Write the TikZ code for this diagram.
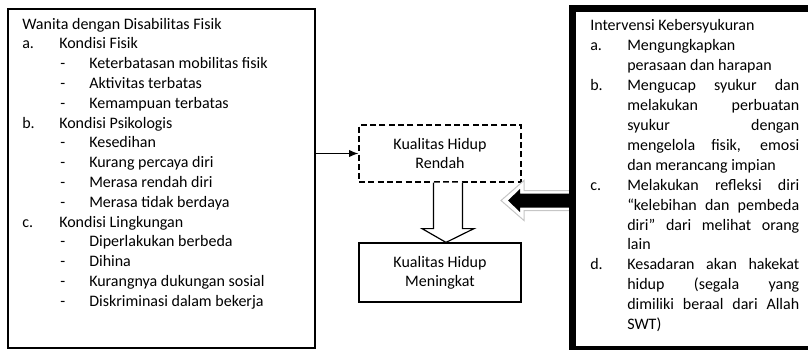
\documentclass[tikz,border=0pt]{standalone}
\usepackage{fontspec}
\setmainfont{Carlito}
\usetikzlibrary{calc,arrows.meta}
\newcommand{\J}[1]{\makebox[129pt][s]{#1}}
\begin{document}
\begin{tikzpicture}[x=0.75pt,y=-0.75pt,
  txt/.style={anchor=base west,inner sep=0pt,font=\fontsize{12}{14}\selectfont},
  box/.style={draw,line width=0.9pt,inner sep=0pt,align=center,font=\fontsize{12}{14}\selectfont},
  hollow/.style={draw,fill=white,line width=0.9pt,line join=miter},
]
\useasboundingbox (0,0) rectangle (808,350);
\clip (0,0) rectangle (808,350);

% boxes
\node[box,minimum width=230.25pt,minimum height=254.25pt] (L) at (161.5,178.5) {};
\node[box,dashed,dash pattern=on 4.5pt off 2.5pt,minimum width=121.5pt,minimum height=42.75pt,font=\fontsize{12}{13.7}\selectfont] (D) at (440,153.5) {Kualitas Hidup\\Rendah};
\node[box,minimum width=121.5pt,minimum height=44.25pt] (M) at (440,272.5) {Kualitas Hidup\\Meningkat};
\node[draw,line width=5.25pt,inner sep=0pt,outer sep=0pt,minimum width=185.6pt,minimum height=255.4pt] (R) at (696.25,179.25) {};

% arrow left box -> dashed box
\draw[line width=0.9pt,-{Latex[length=7pt,width=5.5pt]}] (L.east |- D.west) -- (D.west);

% hollow down arrow
\coordinate (hs) at ($(D.south)+(8,0)$);
\coordinate (ht) at ($(M.north)+(6,0)$);
\draw[hollow] ($(hs)+(-14.5,0)$) -- ($(hs)+(-14.5,46)$) -- ($(hs)+(-26,46)$) -- (ht)
  -- ($(hs)+(26,46)$) -- ($(hs)+(14.5,46)$) -- ($(hs)+(14.5,0)$);

% black arrow from right box
\coordinate (bs) at (R.west |- 0,200.5);
\coordinate (bt) at (508,200.5);
\draw[draw=gray!45,fill=white,line width=0.75pt]
  ($(bs)+(0,-10)$) -- (524,190.5) -- (524,180.5) -- ($(bt)+(-7,0)$) -- (524,220.5) -- (524,210.5) -- ($(bs)+(0,10)$);
\fill[black] ($(bs)+(0,-7)$) -- (520,193.5) -- (520,189) -- (bt) -- (520,212) -- (520,207.5) -- ($(bs)+(0,7)$) -- cycle;
\draw[line width=5.25pt] (R.north west) -- (R.south west);

% left text
\node[txt] (l0) at (22,29) {Wanita dengan Disabilitas Fisik};
\node[txt] (l1a) at (22,48.8) {a.};
\node[txt] (l1) at (59,48.8) {Kondisi Fisik};
\node[txt] (l2a) at (60,68.6) {-};
\node[txt] (l2) at (89,68.6) {Keterbatasan mobilitas fisik};
\node[txt] (l3a) at (60,88.4) {-};
\node[txt] (l3) at (89,88.4) {Aktivitas terbatas};
\node[txt] (l4a) at (60,108.2) {-};
\node[txt] (l4) at (89,108.2) {Kemampuan terbatas};
\node[txt] (l5a) at (22,128) {b.};
\node[txt] (l5) at (59,128) {Kondisi Psikologis};
\node[txt] (l6a) at (60,147.8) {-};
\node[txt] (l6) at (89,147.8) {Kesedihan};
\node[txt] (l7a) at (60,167.6) {-};
\node[txt] (l7) at (89,167.6) {Kurang percaya diri};
\node[txt] (l8a) at (60,187.4) {-};
\node[txt] (l8) at (89,187.4) {Merasa rendah diri};
\node[txt] (l9a) at (60,207.2) {-};
\node[txt] (l9) at (89,207.2) {Merasa tidak berdaya};
\node[txt] (l10a) at (22,227) {c.};
\node[txt] (l10) at (59,227) {Kondisi Lingkungan};
\node[txt] (l11a) at (60,246.8) {-};
\node[txt] (l11) at (89,246.8) {Diperlakukan berbeda};
\node[txt] (l12a) at (60,266.6) {-};
\node[txt] (l12) at (89,266.6) {Dihina};
\node[txt] (l13a) at (60,286.4) {-};
\node[txt] (l13) at (89,286.4) {Kurangnya dukungan sosial};
\node[txt] (l14a) at (60,306.2) {-};
\node[txt] (l14) at (89,306.2) {Diskriminasi dalam bekerja};

% right text
\node[txt] (r0) at (590,30.5) {Intervensi Kebersyukuran};
\node[txt] (r1a) at (590,50.45) {a.};
\node[txt] (r1) at (627,50.45) {Mengungkapkan};
\node[txt] (r2) at (627,70.4) {perasaan dan harapan};
\node[txt] (r3a) at (590,90.35) {b.};
\node[txt] (r3) at (627,90.35) {\J{Mengucap syukur dan}};
\node[txt] (r4) at (627,110.3) {\J{melakukan perbuatan}};
\node[txt] (r5) at (627,130.25) {\J{syukur dengan}};
\node[txt] (r6) at (627,150.2) {\J{mengelola fisik, emosi}};
\node[txt] (r7) at (627,170.15) {dan merancang impian};
\node[txt] (r8a) at (590,190.1) {c.};
\node[txt] (r8) at (627,190.1) {\J{Melakukan refleksi diri}};
\node[txt] (r9) at (627,210.05) {\J{“kelebihan dan pembeda}};
\node[txt] (r10) at (627,230) {\J{diri” dari melihat orang}};
\node[txt] (r11) at (627,249.95) {lain};
\node[txt] (r12a) at (590,269.9) {d.};
\node[txt] (r12) at (627,269.9) {\J{Kesadaran akan hakekat}};
\node[txt] (r13) at (627,289.85) {\J{hidup (segala yang}};
\node[txt] (r14) at (627,309.8) {\J{dimiliki beraal dari Allah}};
\node[txt] (r15) at (627,329.75) {SWT)};
\end{tikzpicture}
\end{document}
